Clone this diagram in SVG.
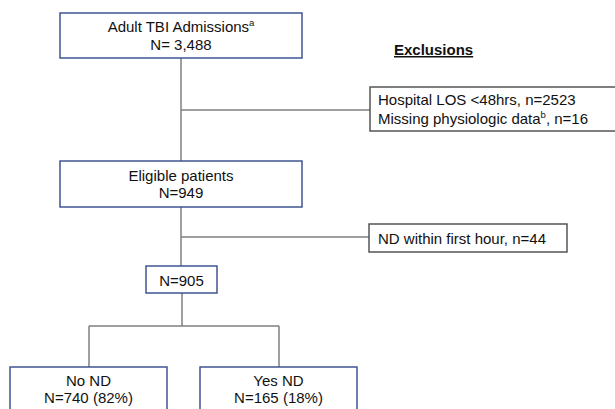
<svg xmlns="http://www.w3.org/2000/svg" width="615" height="409" viewBox="0 0 615 409">
<style>
text{font-family:"Liberation Sans",Arial,sans-serif;font-size:15px;fill:#111}
.main{fill:#fff;stroke:#3f5594;stroke-width:1.5}
.excl{fill:#fff;stroke:#555;stroke-width:1.5}
.c{text-anchor:middle}
.conn{stroke:#808080;stroke-width:1.5;fill:none}
</style>
<rect width="615" height="409" fill="#fff"/>
<g id="connectors">
<path class="conn" d="M181 58V161M181 110H370M181 207V266M181 237H369M182 293V326M89 326H279M89 326V367M279 326V367"/>
</g>
<g id="admissions">
<rect class="main" x="60" y="13" width="242" height="45"/>
<text class="c" x="181" y="32">Adult TBI Admissions<tspan font-size="9.5" dy="-6">a</tspan></text>
<text class="c" x="181" y="50">N= 3,488</text>
</g>
<g id="exclusions-title">
<text x="394" y="55" font-weight="bold" text-decoration="underline">Exclusions</text>
</g>
<g id="exclusion1">
<rect class="excl" x="370" y="87" width="260" height="44"/>
<text x="378" y="105">Hospital LOS &lt;48hrs, n=2523</text>
<text x="378" y="124">Missing physiologic data<tspan font-size="9.5" dy="-6">b</tspan><tspan dy="6">, n=16</tspan></text>
</g>
<g id="eligible">
<rect class="main" x="60" y="161" width="242" height="46"/>
<text class="c" x="181" y="181">Eligible patients</text>
<text class="c" x="181" y="198">N=949</text>
</g>
<g id="exclusion2">
<rect class="excl" x="369" y="224" width="198" height="28"/>
<text x="378" y="244">ND within first hour, n=44</text>
</g>
<g id="n905">
<rect class="main" x="146" y="266" width="71" height="27"/>
<text class="c" x="181.5" y="286">N=905</text>
</g>
<g id="nond">
<rect class="main" x="10" y="367" width="157" height="60"/>
<text class="c" x="88.5" y="386">No ND</text>
<text class="c" x="88.5" y="403">N=740 (82%)</text>
</g>
<g id="yesnd">
<rect class="main" x="200" y="367" width="157" height="60"/>
<text class="c" x="278.5" y="386">Yes ND</text>
<text class="c" x="278.5" y="403">N=165 (18%)</text>
</g>
</svg>
